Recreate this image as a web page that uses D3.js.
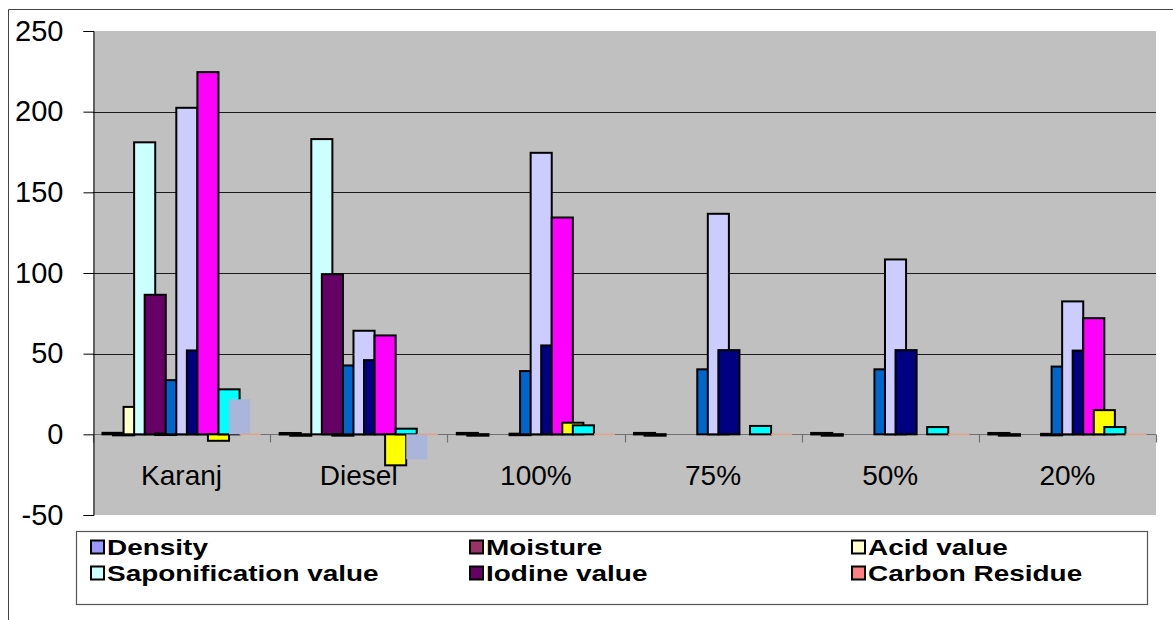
<!DOCTYPE html>
<html>
<head>
<meta charset="utf-8">
<script src="https://cdn.jsdelivr.net/npm/d3@7"></script>
<style>
  html, body { margin: 0; padding: 0; background: #ffffff; }
  svg { display: block; font-family: "Liberation Sans", Arial, sans-serif; }
</style>
</head>
<body>
<svg id="chart" width="1173" height="620"></svg>
<script>
// Fuel property comparison: Karanj oil, diesel and blends
const categories = ["Karanj", "Diesel", "100%", "75%", "50%", "20%"];

// null = no value recorded for that sample
const density        = [0.93, 0.83, 0.88, 0.88, 0.87, 0.85];
const moisture       = [0.3, 0.05, 0.1, 0.1, 0.1, 0.1];
const acidValue      = [17, null, null, null, null, null];
const saponification = [181, 183, null, null, null, null];
const iodineValue    = [86.5, 99.3, null, null, null, null];
const carbonResidue  = [0.5, 0.1, 0.4, null, null, 0.3];
const series7        = [33.6, 42.7, 39.2, 40.3, 40.3, 42];
const series8        = [202.4, 64.2, 174.5, 136.7, 108.4, 82.4];
const series9        = [52, 46, 55.1, 52.2, 52.2, 51.9];
const series10       = [224.5, 61.3, 134.4, null, null, 72];
const series11       = [-4, -19.2, 7.2, null, null, 15];
const series12       = [27.9, 3.5, 5.6, 5.2, 4.5, 4.5];
const series13       = [21.7, -15.5, null, null, null, null];
const series14       = [0, 0, 0, 0, 0, 0];

const yTicks = [-50, 0, 50, 100, 150, 200, 250];
const yTickLabels = ["-50", "0", "50", "100", "150", "200", "250"];

const legendNames = ["Density", "Moisture", "Acid value",
                     "Saponification value", "Iodine value", "Carbon Residue"];

const seriesList = [
  { values: density,        fill: "#9999FF", outline: true },
  { values: moisture,       fill: "#993366", outline: true },
  { values: acidValue,      fill: "#FFFFCC", outline: true },
  { values: saponification, fill: "#CCFFFF", outline: true },
  { values: iodineValue,    fill: "#660066", outline: true },
  { values: carbonResidue,  fill: "#FF8080", outline: true },
  { values: series7,        fill: "#0066CC", outline: true },
  { values: series8,        fill: "#CCCCFF", outline: true },
  { values: series9,        fill: "#000080", outline: true },
  { values: series10,       fill: "#FF00FF", outline: true },
  { values: series11,       fill: "#FFFF00", outline: true },
  { values: series12,       fill: "#00FFFF", outline: true },
  { values: series13,       fill: "#A9B5DA", outline: false },
  { values: series14,       fill: "#E0A48C", outline: false }
];

const svg = d3.select("#chart");

// outer chart frame (top and left edges visible)
svg.append("line").attr("x1", 8.5).attr("x2", 1173).attr("y1", 9.5).attr("y2", 9.5)
  .attr("stroke", "#444").attr("stroke-width", 1);
svg.append("line").attr("x1", 8.5).attr("x2", 8.5).attr("y1", 9.5).attr("y2", 620)
  .attr("stroke", "#444").attr("stroke-width", 1);

const plot = { left: 93, right: 1156, top: 31, bottom: 515 };

const x = d3.scaleBand().domain(categories).range([plot.left, plot.right]).paddingInner(0).paddingOuter(0);
const y = d3.scaleLinear().domain([-50, 250]).range([plot.bottom, plot.top]);

// clustered bars with 50% overlap and a 90% gap
const overlap = 0.5, gapRatio = 0.9, nSeries = seriesList.length;
const barW = x.bandwidth() / ((nSeries - 1) * (1 - overlap) + 1 + gapRatio);
const step = barW * (1 - overlap);
const groupStart = barW * gapRatio / 2;

// plot area background
svg.append("rect").attr("x", plot.left).attr("y", plot.top)
  .attr("width", plot.right - plot.left).attr("height", plot.bottom - plot.top)
  .attr("fill", "#C0C0C0");

// horizontal gridlines
svg.append("g").selectAll("line").data(yTicks.filter(t => t > 0 && t < 250)).join("line")
  .attr("x1", plot.left).attr("x2", plot.right)
  .attr("y1", d => Math.round(y(d)) + 0.5).attr("y2", d => Math.round(y(d)) + 0.5)
  .attr("stroke", "#1a1a1a").attr("stroke-width", 1.2);

// zero baseline
svg.append("line").attr("x1", plot.left).attr("x2", plot.right)
  .attr("y1", Math.round(y(0)) + 0.5).attr("y2", Math.round(y(0)) + 0.5)
  .attr("stroke", "#707070").attr("stroke-width", 1.2);

// bars, drawn series by series so later series sit on top
seriesList.forEach((s, si) => {
  const g = svg.append("g");
  const pts = categories.map((c, ci) => ({ c, v: s.values[ci] })).filter(d => d.v !== null);
  g.selectAll("rect").data(pts).join("rect")
    .attr("x", d => x(d.c) + groupStart + si * step)
    .attr("y", d => Math.min(y(d.v), y(0)) - (d.v === 0 ? 0.75 : 0))
    .attr("width", barW)
    .attr("height", d => Math.max(Math.abs(y(d.v) - y(0)), 1.5))
    .attr("fill", s.fill)
    .attr("stroke", s.outline ? "#000" : "none")
    .attr("stroke-width", 2);
});

// category axis with boundary ticks
const yZero = Math.round(y(0)) + 0.5;
const bounds = categories.map(c => x(c)).concat([plot.right]);
svg.append("g").selectAll("line").data(bounds).join("line")
  .attr("x1", d => Math.round(d) + 0.5).attr("x2", d => Math.round(d) + 0.5)
  .attr("y1", yZero).attr("y2", yZero + 8)
  .attr("stroke", "#707070").attr("stroke-width", 1.2);

svg.append("g").selectAll("text").data(categories).join("text")
  .attr("x", d => x(d) + x.bandwidth() / 2)
  .attr("y", yZero + 50)
  .attr("text-anchor", "middle")
  .attr("font-size", 28)
  .attr("fill", "#000")
  .text(d => d);

// value axis
const yAxis = d3.axisLeft(y).tickValues(yTicks).tickSize(10).tickPadding(20)
  .tickFormat((d, i) => yTickLabels[i]);
const ya = svg.append("g").attr("transform", `translate(${plot.left + 0.5},0)`).call(yAxis);
ya.select(".domain").attr("stroke", "#000").attr("stroke-width", 1);
ya.selectAll(".tick line").attr("stroke", "#000");
ya.selectAll(".tick text").attr("font-size", 29).attr("fill", "#000")
  .attr("font-family", "Liberation Sans, Arial, sans-serif");

// legend
const lg = { x: 76.5, y: 531.5, w: 1071, h: 73 };
svg.append("rect").attr("x", lg.x).attr("y", lg.y).attr("width", lg.w).attr("height", lg.h)
  .attr("fill", "#fff").attr("stroke", "#555").attr("stroke-width", 1.2);

const colX = [91, 470, 852];
const rowY = [547, 573];
const items = svg.append("g").selectAll("g").data(legendNames).join("g")
  .attr("transform", (d, i) => `translate(${colX[i % 3]},${rowY[Math.floor(i / 3)]})`);
items.append("rect").attr("x", 0).attr("y", -6.5).attr("width", 13).attr("height", 13)
  .attr("fill", (d, i) => seriesList[i].fill).attr("stroke", "#000").attr("stroke-width", 2);
items.append("text").attr("transform", "translate(16,8) scale(1.3,1)")
  .attr("font-size", 21.5).attr("font-weight", "bold").attr("fill", "#000")
  .text(d => d);
</script>
</body>
</html>
